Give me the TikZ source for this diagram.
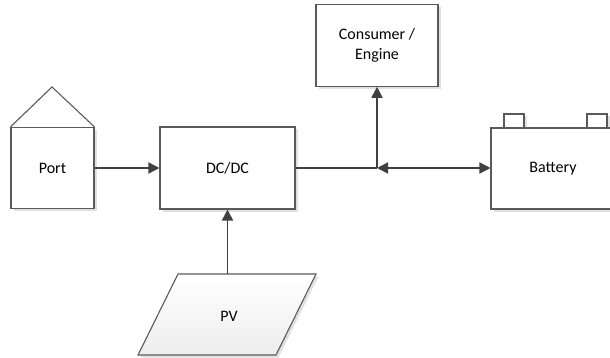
\documentclass[tikz,border=0pt]{standalone}
\usepackage{fontspec}
\setmainfont{Carlito}
\usetikzlibrary{arrows.meta,shadows}
\definecolor{edge}{HTML}{5A5A5A}
\definecolor{wire}{HTML}{404040}
\tikzset{
  box/.style={draw=edge, line width=1.1pt, fill=white, inner sep=0pt, align=center,
    font=\fontsize{16}{19.5}\selectfont,
    drop shadow={shadow xshift=2.5pt, shadow yshift=-2.5pt, fill=black!12, opacity=1}},
  outline/.style={draw=edge, line width=1.1pt},
  wirearrow/.style={draw=wire, line width=1.8pt, -{Triangle[length=11pt,width=11pt]}},
  wireboth/.style={draw=wire, line width=1.8pt, {Triangle[length=11pt,width=11pt]}-{Triangle[length=11pt,width=11pt]}},
  wireplain/.style={draw=wire, line width=1.8pt},
  lbl/.style={font=\fontsize{16}{19.5}\selectfont}
}
\begin{document}
\begin{tikzpicture}[x=1pt,y=-1pt]
\useasboundingbox (0,0) rectangle (610,358);
% Port
\node[box, minimum width=83pt, minimum height=81pt] (port) at (52.5,168) {Port};
\coordinate (roof) at (52,87);
\draw[outline, line join=miter] (port.north west) -- (roof) -- (port.north east);
% DC/DC
\node[box, minimum width=135pt, minimum height=82pt] (dcdc) at (227.5,168) {DC/DC};
% Consumer
\node[box, minimum width=122pt, minimum height=81.5pt] (cons) at (377,45.5) {Consumer /\\Engine};
% Battery terminals
\node[box, minimum width=20pt, minimum height=14pt] (t1) at (514,121) {};
\node[box, minimum width=20pt, minimum height=14pt] (t2) at (597,121) {};
% Battery
\node[box, minimum width=124pt, minimum height=81pt] (batt) at (553,168.5) {Battery};
% PV
\coordinate (pv1) at (178,274);
\coordinate (pv2) at (316,274);
\coordinate (pv3) at (276,355);
\coordinate (pv4) at (138,355);
\fill[black!12] ([shift={(2.5,2.5)}]pv1) -- ([shift={(2.5,2.5)}]pv2) -- ([shift={(2.5,2.5)}]pv3) -- ([shift={(2.5,2.5)}]pv4) -- cycle;
\shade[top color=white, bottom color=black!7] (pv1) -- (pv2) -- (pv3) -- (pv4) -- cycle;
\draw[outline, line join=miter] (pv1) -- (pv2) -- (pv3) -- (pv4) -- cycle;
\node[lbl] (pv) at (229,316) {PV};
\coordinate (pvtop) at (227.5,274);
% Connectors
\coordinate (J) at (377,168);
\draw[wirearrow] (port.east) -- (dcdc.west);
\draw[wirearrow] (pvtop) -- (dcdc.south);
\draw[wireplain] (dcdc.east) -- (J);
\draw[wirearrow] (J) -- (cons.south);
\draw[wireboth] (J) -- (batt.west |- J);
\end{tikzpicture}
\end{document}
